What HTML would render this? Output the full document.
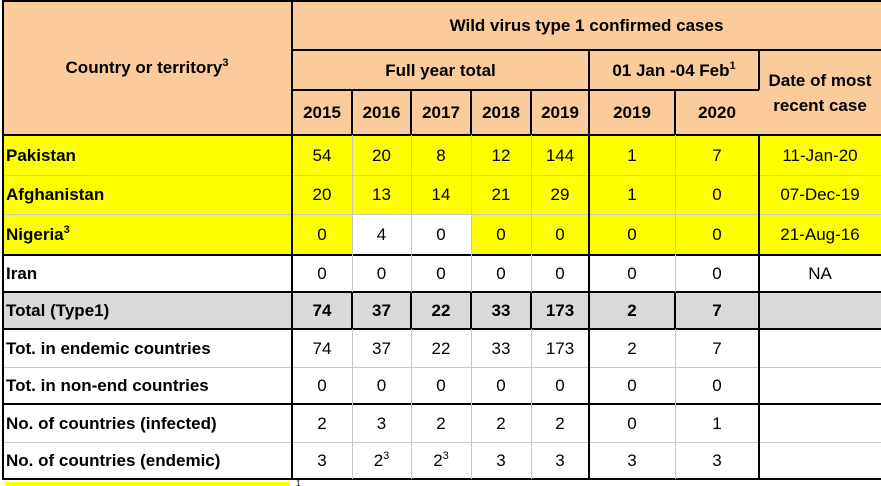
<!DOCTYPE html>
<html><head><meta charset="utf-8">
<style>
html,body{margin:0;padding:0;background:#fff;}
#t{position:relative;width:881px;height:486px;overflow:hidden;font-family:"Liberation Sans",sans-serif;color:#000;}
.c{position:absolute;display:flex;align-items:center;justify-content:center;box-sizing:border-box;font-size:17px;text-align:center;line-height:1.45;padding-top:2px;}
.l{justify-content:flex-start;padding-left:4px;}
.b{font-weight:bold;}
.ln{position:absolute;}
sup{font-size:11px;line-height:0;vertical-align:7px;}
</style></head><body>
<div id="t"></div>
<script>
const X=[2,292,352,411,471,531,589,675,759,881];
const Y=[0,50,90,135,175,214,255,292,329,367,404,442,479];
const HDR='#FBCB9C',YEL='#FFFF00',GRY='#D9D9D9',WH='#FFFFFF';
const rowLabels=['Pakistan','Afghanistan','Nigeria<sup>3</sup>','Iran','Total (Type1)','Tot. in endemic countries','Tot. in non-end countries','No. of countries (infected)','No. of countries (endemic)'];
const rowValues=[
['54','20','8','12','144','1','7','11-Jan-20'],
['20','13','14','21','29','1','0','07-Dec-19'],
['0','4','0','0','0','0','0','21-Aug-16'],
['0','0','0','0','0','0','0','NA'],
['74','37','22','33','173','2','7',''],
['74','37','22','33','173','2','7',''],
['0','0','0','0','0','0','0',''],
['2','3','2','2','2','0','1',''],
['3','2<sup>3</sup>','2<sup>3</sup>','3','3','3','3','']];
const years=['2015','2016','2017','2018','2019','2019','2020'];
const T=document.getElementById('t');
function cell(x1,y1,x2,y2,bg,html,cls,name){
 const d=document.createElement('div');
 d.className='c '+(cls||'');
 d.style.cssText=`left:${x1}px;top:${y1}px;width:${x2-x1}px;height:${y2-y1}px;background:${bg}`;
 d.innerHTML='<span>'+html+'</span>';
 
 
 T.appendChild(d);
}
function line(x,y,w,h,col,name){
 const d=document.createElement('div');d.className='ln';
 d.style.cssText=`left:${x}px;top:${y}px;width:${w}px;height:${h}px;background:${col}`;
 
 
 T.appendChild(d);
}
cell(X[0],Y[0],X[1],Y[3],HDR,'Country or territory<sup>3</sup>','b','country-header');
cell(X[1],Y[0],X[9],Y[1],HDR,'Wild virus type 1 confirmed cases','b','main-header');
cell(X[1],Y[1],X[6],Y[2],HDR,'Full year total','b','full-year-header');
cell(X[6],Y[1],X[8],Y[2],HDR,'01 Jan -04 Feb<sup>1</sup>','b','period-header');
cell(X[8],Y[1],X[9],Y[3],HDR,'Date of most<br>recent case','b','date-header');
years.forEach((y,i)=>cell(X[i+1],Y[2],X[i+2],Y[3],HDR,y,'b','year-header-'+y));
rowLabels.forEach((lab,r)=>{
 const y1=Y[3+r],y2=Y[4+r];
 let bg=r<3?YEL:(r==4?GRY:WH);
 const bold=r==4?'b':'';
 cell(X[0],y1,X[1],y2,bg,lab,'l b','row-label');
 rowValues[r].forEach((v,c)=>{
  let cb=bg;
  if(r==2&&(c==1||c==2))cb=WH;
  cell(X[c+1],y1,X[c+2],y2,cb,v,bold,'value-cell');
 });
});
const DK='#000',LT='#C8C8C8';
line(X[0],0,X[9]-X[0],2,DK,'top-border');
line(X[1],Y[1]-1,X[9]-X[1],2,DK,'h-line');
line(X[1],Y[2]-1,X[8]-X[1],2,DK,'h-line');
const thickAfter=[3,6,7,8,10,12];
for(let i=3;i<=12;i++){
 const thick=thickAfter.includes(i);
 line(X[0],Y[i]-(thick?1:0),X[9]-X[0],thick?2:1,thick?DK:LT,'h-line');
}
line(X[0],0,2,Y[12]+1,DK,'left-border');
for(let r=0;r<12;r++){
 for(let c=1;c<9;c++){
  if(r<2&&c!=1&&!(r==1&&(c==6||c==8)))continue;
  if(r==2&&c==8)continue;
  const dark=(c==1||c==6||c==8||r==2||r==7);
  line(X[c]-(dark?1:0),Y[r],dark?2:1,Y[r+1]-Y[r],dark?DK:LT,'v-line');
 }
}
line(X[6]-1,Y[1],2,Y[3]-Y[1],DK,'v-line');
line(5,482,285,4,YEL,'footnote-highlight');
const f=document.createElement('div');
f.style.cssText='position:absolute;left:296px;top:479px;font-size:8px;';
f.textContent='1';


T.appendChild(f);
</script>
</body></html>
